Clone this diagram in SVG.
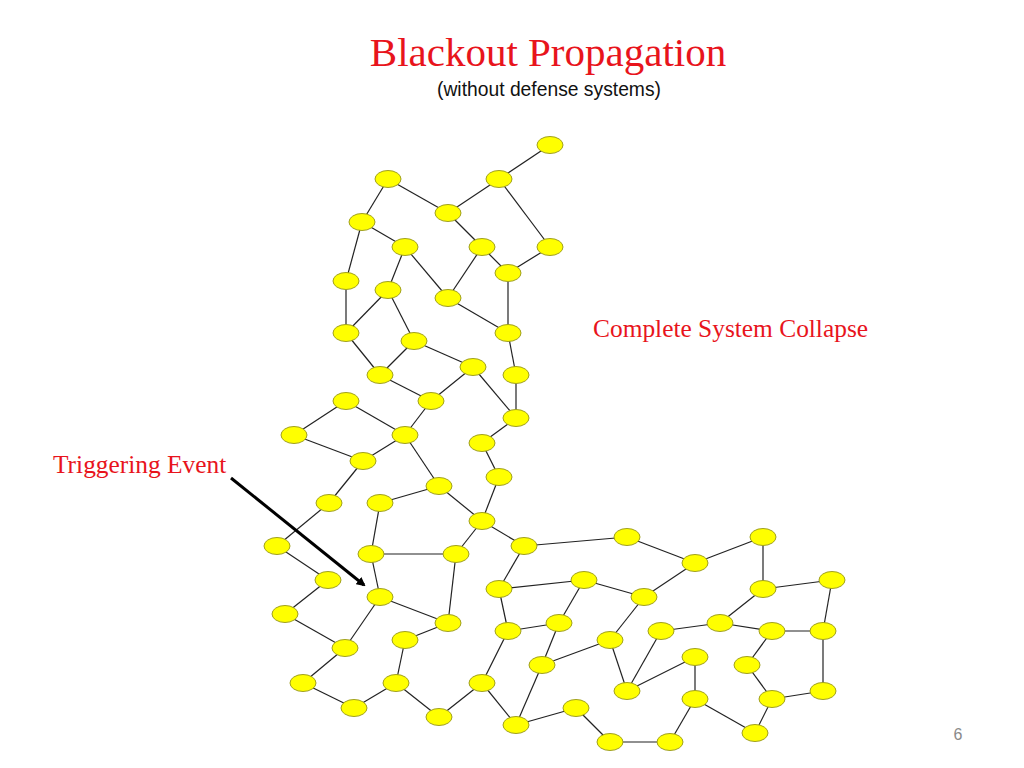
<svg xmlns="http://www.w3.org/2000/svg" width="1024" height="768" viewBox="0 0 1024 768">
<style>
.node{fill:#FFFF00;stroke:#A0A020;stroke-width:1}
.edge line{stroke:#222;stroke-width:1.2}
.red{fill:#E8141C;font-family:"Liberation Serif","Times New Roman",serif}
</style>
<defs>
<marker id="ah" markerWidth="9" markerHeight="9" refX="7" refY="4.5" orient="auto" markerUnits="userSpaceOnUse" viewBox="0 0 9 9">
<path d="M0,0 L9,4.5 L0,9 z" fill="#000"/>
</marker>
</defs>
<rect width="1024" height="768" fill="#fff"/>
<text x="548" y="66" text-anchor="middle" class="red" font-size="41">Blackout Propagation</text>
<text x="549" y="96" text-anchor="middle" font-family="Liberation Sans, Arial, sans-serif" font-size="19.3" fill="#111">(without defense systems)</text>
<text x="593" y="337" class="red" font-size="25.4">Complete System Collapse</text>
<text x="53" y="473" class="red" font-size="25.4">Triggering Event</text>
<text x="958" y="740" text-anchor="middle" font-family="Liberation Sans, Arial, sans-serif" font-size="16" fill="#8a8a8a">6</text>
<g id="edges" class="edge">
<line x1="550" y1="145" x2="499" y2="179"/>
<line x1="388" y1="179" x2="448" y2="213"/>
<line x1="499" y1="179" x2="448" y2="213"/>
<line x1="499" y1="179" x2="550" y2="247"/>
<line x1="388" y1="179" x2="362" y2="222"/>
<line x1="362" y1="222" x2="405" y2="247"/>
<line x1="362" y1="222" x2="346" y2="281"/>
<line x1="448" y1="213" x2="482" y2="247"/>
<line x1="482" y1="247" x2="448" y2="298"/>
<line x1="482" y1="247" x2="508" y2="273"/>
<line x1="550" y1="247" x2="508" y2="273"/>
<line x1="405" y1="247" x2="388" y2="290"/>
<line x1="405" y1="247" x2="448" y2="298"/>
<line x1="346" y1="281" x2="346" y2="333"/>
<line x1="388" y1="290" x2="346" y2="333"/>
<line x1="388" y1="290" x2="414" y2="341"/>
<line x1="448" y1="298" x2="508" y2="333"/>
<line x1="508" y1="273" x2="508" y2="333"/>
<line x1="346" y1="333" x2="380" y2="375"/>
<line x1="508" y1="333" x2="516" y2="375"/>
<line x1="414" y1="341" x2="380" y2="375"/>
<line x1="414" y1="341" x2="473" y2="367"/>
<line x1="380" y1="375" x2="431" y2="401"/>
<line x1="473" y1="367" x2="431" y2="401"/>
<line x1="473" y1="367" x2="516" y2="418"/>
<line x1="516" y1="375" x2="516" y2="418"/>
<line x1="516" y1="418" x2="482" y2="443"/>
<line x1="482" y1="443" x2="499" y2="477"/>
<line x1="346" y1="401" x2="294" y2="435"/>
<line x1="346" y1="401" x2="405" y2="435"/>
<line x1="431" y1="401" x2="405" y2="435"/>
<line x1="294" y1="435" x2="363" y2="461"/>
<line x1="405" y1="435" x2="363" y2="461"/>
<line x1="405" y1="435" x2="439" y2="486"/>
<line x1="363" y1="461" x2="329" y2="503"/>
<line x1="380" y1="503" x2="439" y2="486"/>
<line x1="439" y1="486" x2="482" y2="521"/>
<line x1="499" y1="477" x2="482" y2="521"/>
<line x1="329" y1="503" x2="277" y2="546"/>
<line x1="277" y1="546" x2="328" y2="580"/>
<line x1="328" y1="580" x2="285" y2="614"/>
<line x1="285" y1="614" x2="345" y2="648"/>
<line x1="345" y1="648" x2="380" y2="597"/>
<line x1="345" y1="648" x2="303" y2="683"/>
<line x1="303" y1="683" x2="354" y2="708"/>
<line x1="354" y1="708" x2="396" y2="683"/>
<line x1="396" y1="683" x2="405" y2="640"/>
<line x1="405" y1="640" x2="448" y2="623"/>
<line x1="380" y1="597" x2="448" y2="623"/>
<line x1="456" y1="554" x2="448" y2="623"/>
<line x1="371" y1="554" x2="456" y2="554"/>
<line x1="371" y1="554" x2="380" y2="597"/>
<line x1="371" y1="554" x2="380" y2="503"/>
<line x1="456" y1="554" x2="482" y2="521"/>
<line x1="482" y1="521" x2="524" y2="546"/>
<line x1="524" y1="546" x2="499" y2="589"/>
<line x1="499" y1="589" x2="508" y2="631"/>
<line x1="508" y1="631" x2="559" y2="623"/>
<line x1="508" y1="631" x2="482" y2="683"/>
<line x1="482" y1="683" x2="439" y2="717"/>
<line x1="396" y1="683" x2="439" y2="717"/>
<line x1="482" y1="683" x2="516" y2="725"/>
<line x1="516" y1="725" x2="542" y2="665"/>
<line x1="542" y1="665" x2="559" y2="623"/>
<line x1="516" y1="725" x2="576" y2="708"/>
<line x1="524" y1="546" x2="627" y2="537"/>
<line x1="627" y1="537" x2="695" y2="563"/>
<line x1="695" y1="563" x2="763" y2="537"/>
<line x1="499" y1="589" x2="584" y2="580"/>
<line x1="584" y1="580" x2="644" y2="597"/>
<line x1="644" y1="597" x2="695" y2="563"/>
<line x1="584" y1="580" x2="559" y2="623"/>
<line x1="542" y1="665" x2="610" y2="640"/>
<line x1="610" y1="640" x2="644" y2="597"/>
<line x1="610" y1="640" x2="627" y2="691"/>
<line x1="627" y1="691" x2="661" y2="631"/>
<line x1="627" y1="691" x2="695" y2="657"/>
<line x1="695" y1="657" x2="695" y2="699"/>
<line x1="695" y1="699" x2="670" y2="742"/>
<line x1="610" y1="742" x2="670" y2="742"/>
<line x1="576" y1="708" x2="610" y2="742"/>
<line x1="661" y1="631" x2="720" y2="623"/>
<line x1="695" y1="699" x2="755" y2="733"/>
<line x1="763" y1="537" x2="763" y2="589"/>
<line x1="763" y1="589" x2="832" y2="580"/>
<line x1="832" y1="580" x2="823" y2="631"/>
<line x1="763" y1="589" x2="720" y2="623"/>
<line x1="720" y1="623" x2="772" y2="631"/>
<line x1="772" y1="631" x2="823" y2="631"/>
<line x1="823" y1="631" x2="823" y2="691"/>
<line x1="823" y1="691" x2="772" y2="699"/>
<line x1="772" y1="631" x2="747" y2="665"/>
<line x1="747" y1="665" x2="772" y2="699"/>
<line x1="772" y1="699" x2="755" y2="733"/>
</g>
<g id="nodes">
<g id="n1"><ellipse class="node" cx="550" cy="145" rx="13" ry="8.5"/></g>
<g id="n2"><ellipse class="node" cx="388" cy="179" rx="13" ry="8.5"/></g>
<g id="n3"><ellipse class="node" cx="499" cy="179" rx="13" ry="8.5"/></g>
<g id="n4"><ellipse class="node" cx="448" cy="213" rx="13" ry="8.5"/></g>
<g id="n5"><ellipse class="node" cx="362" cy="222" rx="13" ry="8.5"/></g>
<g id="n6"><ellipse class="node" cx="405" cy="247" rx="13" ry="8.5"/></g>
<g id="n7"><ellipse class="node" cx="482" cy="247" rx="13" ry="8.5"/></g>
<g id="n8"><ellipse class="node" cx="550" cy="247" rx="13" ry="8.5"/></g>
<g id="n9"><ellipse class="node" cx="508" cy="273" rx="13" ry="8.5"/></g>
<g id="n10"><ellipse class="node" cx="346" cy="281" rx="13" ry="8.5"/></g>
<g id="n11"><ellipse class="node" cx="388" cy="290" rx="13" ry="8.5"/></g>
<g id="n12"><ellipse class="node" cx="448" cy="298" rx="13" ry="8.5"/></g>
<g id="n13"><ellipse class="node" cx="346" cy="333" rx="13" ry="8.5"/></g>
<g id="n14"><ellipse class="node" cx="508" cy="333" rx="13" ry="8.5"/></g>
<g id="n15"><ellipse class="node" cx="414" cy="341" rx="13" ry="8.5"/></g>
<g id="n16"><ellipse class="node" cx="473" cy="367" rx="13" ry="8.5"/></g>
<g id="n17"><ellipse class="node" cx="380" cy="375" rx="13" ry="8.5"/></g>
<g id="n18"><ellipse class="node" cx="516" cy="375" rx="13" ry="8.5"/></g>
<g id="n19"><ellipse class="node" cx="431" cy="401" rx="13" ry="8.5"/></g>
<g id="n20"><ellipse class="node" cx="346" cy="401" rx="13" ry="8.5"/></g>
<g id="n21"><ellipse class="node" cx="294" cy="435" rx="13" ry="8.5"/></g>
<g id="n22"><ellipse class="node" cx="405" cy="435" rx="13" ry="8.5"/></g>
<g id="n23"><ellipse class="node" cx="516" cy="418" rx="13" ry="8.5"/></g>
<g id="n24"><ellipse class="node" cx="482" cy="443" rx="13" ry="8.5"/></g>
<g id="n25"><ellipse class="node" cx="363" cy="461" rx="13" ry="8.5"/></g>
<g id="n26"><ellipse class="node" cx="499" cy="477" rx="13" ry="8.5"/></g>
<g id="n27"><ellipse class="node" cx="439" cy="486" rx="13" ry="8.5"/></g>
<g id="n28"><ellipse class="node" cx="329" cy="503" rx="13" ry="8.5"/></g>
<g id="n29"><ellipse class="node" cx="380" cy="503" rx="13" ry="8.5"/></g>
<g id="n30"><ellipse class="node" cx="482" cy="521" rx="13" ry="8.5"/></g>
<g id="n31"><ellipse class="node" cx="277" cy="546" rx="13" ry="8.5"/></g>
<g id="n32"><ellipse class="node" cx="524" cy="546" rx="13" ry="8.5"/></g>
<g id="n33"><ellipse class="node" cx="627" cy="537" rx="13" ry="8.5"/></g>
<g id="n34"><ellipse class="node" cx="371" cy="554" rx="13" ry="8.5"/></g>
<g id="n35"><ellipse class="node" cx="456" cy="554" rx="13" ry="8.5"/></g>
<g id="n36"><ellipse class="node" cx="763" cy="537" rx="13" ry="8.5"/></g>
<g id="n37"><ellipse class="node" cx="328" cy="580" rx="13" ry="8.5"/></g>
<g id="n38"><ellipse class="node" cx="695" cy="563" rx="13" ry="8.5"/></g>
<g id="n39"><ellipse class="node" cx="499" cy="589" rx="13" ry="8.5"/></g>
<g id="n40"><ellipse class="node" cx="584" cy="580" rx="13" ry="8.5"/></g>
<g id="n41"><ellipse class="node" cx="380" cy="597" rx="13" ry="8.5"/></g>
<g id="n42"><ellipse class="node" cx="644" cy="597" rx="13" ry="8.5"/></g>
<g id="n43"><ellipse class="node" cx="763" cy="589" rx="13" ry="8.5"/></g>
<g id="n44"><ellipse class="node" cx="832" cy="580" rx="13" ry="8.5"/></g>
<g id="n45"><ellipse class="node" cx="285" cy="614" rx="13" ry="8.5"/></g>
<g id="n46"><ellipse class="node" cx="448" cy="623" rx="13" ry="8.5"/></g>
<g id="n47"><ellipse class="node" cx="559" cy="623" rx="13" ry="8.5"/></g>
<g id="n48"><ellipse class="node" cx="720" cy="623" rx="13" ry="8.5"/></g>
<g id="n49"><ellipse class="node" cx="405" cy="640" rx="13" ry="8.5"/></g>
<g id="n50"><ellipse class="node" cx="508" cy="631" rx="13" ry="8.5"/></g>
<g id="n51"><ellipse class="node" cx="661" cy="631" rx="13" ry="8.5"/></g>
<g id="n52"><ellipse class="node" cx="772" cy="631" rx="13" ry="8.5"/></g>
<g id="n53"><ellipse class="node" cx="823" cy="631" rx="13" ry="8.5"/></g>
<g id="n54"><ellipse class="node" cx="610" cy="640" rx="13" ry="8.5"/></g>
<g id="n55"><ellipse class="node" cx="345" cy="648" rx="13" ry="8.5"/></g>
<g id="n56"><ellipse class="node" cx="695" cy="657" rx="13" ry="8.5"/></g>
<g id="n57"><ellipse class="node" cx="542" cy="665" rx="13" ry="8.5"/></g>
<g id="n58"><ellipse class="node" cx="747" cy="665" rx="13" ry="8.5"/></g>
<g id="n59"><ellipse class="node" cx="303" cy="683" rx="13" ry="8.5"/></g>
<g id="n60"><ellipse class="node" cx="396" cy="683" rx="13" ry="8.5"/></g>
<g id="n61"><ellipse class="node" cx="482" cy="683" rx="13" ry="8.5"/></g>
<g id="n62"><ellipse class="node" cx="627" cy="691" rx="13" ry="8.5"/></g>
<g id="n63"><ellipse class="node" cx="695" cy="699" rx="13" ry="8.5"/></g>
<g id="n64"><ellipse class="node" cx="772" cy="699" rx="13" ry="8.5"/></g>
<g id="n65"><ellipse class="node" cx="823" cy="691" rx="13" ry="8.5"/></g>
<g id="n66"><ellipse class="node" cx="354" cy="708" rx="13" ry="8.5"/></g>
<g id="n67"><ellipse class="node" cx="439" cy="717" rx="13" ry="8.5"/></g>
<g id="n68"><ellipse class="node" cx="576" cy="708" rx="13" ry="8.5"/></g>
<g id="n69"><ellipse class="node" cx="516" cy="725" rx="13" ry="8.5"/></g>
<g id="n70"><ellipse class="node" cx="610" cy="742" rx="13" ry="8.5"/></g>
<g id="n71"><ellipse class="node" cx="670" cy="742" rx="13" ry="8.5"/></g>
<g id="n72"><ellipse class="node" cx="755" cy="733" rx="13" ry="8.5"/></g>
</g>
<g id="arrow">
<line x1="231" y1="478" x2="364" y2="585" stroke="#000" stroke-width="3" marker-end="url(#ah)"/>
</g>
</svg>
